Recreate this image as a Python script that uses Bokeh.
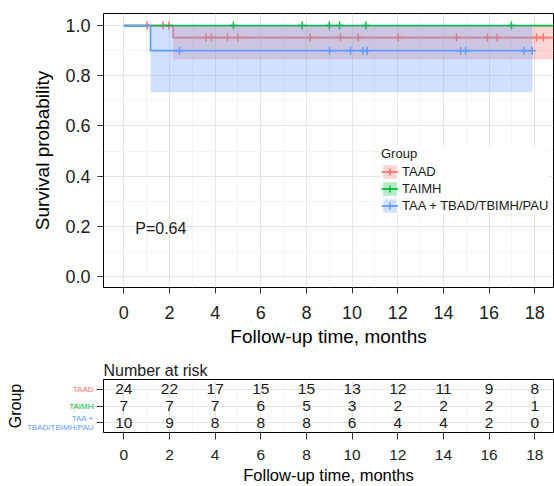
import numpy as np
from bokeh.plotting import figure
from bokeh.layouts import column, row
from bokeh.models import (Range1d, FixedTicker, Legend, LegendItem, Label,
                          ColumnDataSource, PrintfTickFormatter)
from bokeh.core.properties import value
from bokeh.embed import file_html
from bokeh.resources import INLINE

FONT = "Liberation Sans"

groups = ["TAAD", "TAIMH", "TAA + TBAD/TBIMH/PAU"]
group_ticklabels = ["TAAD", "TAIMH", "TAA +\nTBAD/TBIMH/PAU"]
colors = ["#F8766D", "#00BA38", "#619CFF"]

# Kaplan-Meier step values (time where survival changes, survival, CI)
taad_time = [0.0, 2.16, 19.5]
taad_surv = [1.0, 0.952, 0.952]
taad_lower = [1.0, 0.865, 0.865]
taad_upper = [1.0, 1.0, 1.0]
taad_censor = [1.02, 1.71, 1.97, 3.6, 3.84, 4.54, 5.0, 8.16, 9.49, 10.27,
               12.02, 14.57, 15.92, 16.35, 18.08, 18.37]

taimh_time = [0.0, 19.5]
taimh_surv = [1.0, 1.0]
taimh_lower = [1.0, 1.0]
taimh_upper = [1.0, 1.0]
taimh_censor = [4.8, 7.81, 9.0, 9.45, 10.6, 16.98]

taa_time = [0.0, 1.17, 17.9]
taa_surv = [1.0, 0.9, 0.9]
taa_lower = [1.0, 0.734, 0.734]
taa_upper = [1.0, 1.0, 1.0]
taa_censor = [2.44, 9.01, 9.93, 10.47, 10.66, 14.75, 14.97, 17.52, 17.89]

# Number at risk
risk_times = [0, 2, 4, 6, 8, 10, 12, 14, 16, 18]
taad_risk = [24, 22, 17, 15, 15, 13, 12, 11, 9, 8]
taimh_risk = [7, 7, 7, 6, 5, 3, 2, 2, 2, 1]
taa_risk = [10, 9, 8, 8, 8, 6, 4, 4, 2, 0]

x_ticks = [0, 2, 4, 6, 8, 10, 12, 14, 16, 18]
x_minor = [1, 3, 5, 7, 9, 11, 13, 15, 17]
y_ticks = [0.0, 0.2, 0.4, 0.6, 0.8, 1.0]
y_minor = [0.1, 0.3, 0.5, 0.7, 0.9]

curves = [
    (taad_time, taad_surv, taad_lower, taad_upper, taad_censor),
    (taimh_time, taimh_surv, taimh_lower, taimh_upper, taimh_censor),
    (taa_time, taa_surv, taa_lower, taa_upper, taa_censor),
]

XR = (-0.89, 18.82)
TICK_COLOR = "#333333"
LABEL_COLOR = "#222222"
W = 554

# ---------------- main KM plot ----------------
p = figure(width=W, height=353, x_range=Range1d(*XR), y_range=Range1d(-0.044, 1.048),
           output_backend="svg", toolbar_location=None,
           min_border_left=103, min_border_right=1, min_border_top=13, min_border_bottom=66)
p.outline_line_color = "black"
p.outline_line_width = 1
p.background_fill_color = "white"

for ax in (p.xaxis[0], p.yaxis[0]):
    ax.axis_line_color = None
    ax.major_tick_line_color = TICK_COLOR
    ax.major_tick_out = 6
    ax.major_tick_in = 0
    ax.minor_tick_line_color = None
    ax.major_label_text_font = FONT
    ax.major_label_text_font_size = "18px"
    ax.major_label_text_color = LABEL_COLOR
    ax.axis_label_text_font = FONT
    ax.axis_label_text_font_size = "19px"
    ax.axis_label_text_font_style = "normal"
    ax.axis_label_text_color = "black"

p.xaxis.ticker = FixedTicker(ticks=x_ticks, minor_ticks=x_minor)
p.yaxis.ticker = FixedTicker(ticks=y_ticks, minor_ticks=y_minor)
p.yaxis.formatter = PrintfTickFormatter(format="%.1f")
p.xaxis.axis_label = "Follow-up time, months"
p.yaxis.axis_label = "Survival probability"
p.xaxis.major_label_standoff = 12
p.xaxis.axis_label_standoff = 4
p.yaxis.major_label_standoff = 7
p.yaxis.axis_label_standoff = 9

for g in (p.xgrid[0], p.ygrid[0]):
    g.grid_line_color = "#E6E6E6"
    g.grid_line_width = 1
    g.minor_grid_line_color = "#EFEFEF"
    g.minor_grid_line_width = 0.7

items = []
for (t, s, lo, up, cens), name, col in zip(curves, groups, colors):
    t = np.array(t); s = np.array(s)
    r_area = p.varea_step(x=t, y1=lo, y2=up, step_mode="after", fill_color=col, fill_alpha=0.3)
    r_line = p.step(x=t, y=s, mode="after", line_color=col, line_width=1.7)
    idx = np.searchsorted(t, np.array(cens), side="right") - 1
    r_pts = p.scatter(x=cens, y=s[idx], marker="cross", size=8, line_color=col, line_width=1.5)
    items.append(LegendItem(label=name, renderers=[r_area, r_line, r_pts]))

legend = Legend(items=items, location=(278, 73), title="Group",
                title_text_font=FONT, title_text_font_size="13px", title_text_font_style="normal",
                title_text_color="#1a1a1a", title_standoff=2,
                label_text_font=FONT, label_text_font_size="13px", label_text_color="#1a1a1a",
                glyph_width=17, glyph_height=17, label_height=17, label_standoff=4,
                spacing=0, padding=3, margin=0, border_line_color=None,
                background_fill_color="white", background_fill_alpha=1.0)
p.add_layout(legend)

p.add_layout(Label(x=0.5, y=0.19, text="P=0.64", text_font=FONT, text_font_size="16px",
                   text_baseline="middle", text_color="#1a1a1a"))

# ---------------- risk table ----------------
TB_H, TB_TOP, TB_BOT = 133, 26, 54
LEFT_W = 95

tb = figure(width=W - LEFT_W, height=TB_H, x_range=Range1d(*XR), y_range=Range1d(0.4, 3.6),
            output_backend="svg", toolbar_location=None,
            min_border_left=8, min_border_right=1, min_border_top=TB_TOP, min_border_bottom=TB_BOT)
tb.outline_line_color = "black"
tb.title.text = "Number at risk"
tb.title.align = "left"
tb.title.text_font = FONT
tb.title.text_font_size = "16px"
tb.title.text_font_style = "normal"
tb.title.text_color = "#1a1a1a"
tb.title.standoff = 2

for ax in (tb.xaxis[0], tb.yaxis[0]):
    ax.axis_line_color = None
    ax.major_tick_line_color = TICK_COLOR
    ax.major_tick_out = 7
    ax.major_tick_in = 0
    ax.minor_tick_line_color = None
    ax.major_label_text_font = FONT
    ax.major_label_text_font_size = "15.5px"
    ax.major_label_text_color = LABEL_COLOR
    ax.axis_label_text_font = FONT
    ax.axis_label_text_font_size = "16.5px"
    ax.axis_label_text_font_style = "normal"
    ax.axis_label_text_color = "black"

tb.xaxis.ticker = FixedTicker(ticks=x_ticks, minor_ticks=x_minor)
tb.xaxis.axis_label = "Follow-up time, months"
tb.xaxis.major_label_standoff = 10
tb.xaxis.axis_label_standoff = 3
tb.yaxis.ticker = FixedTicker(ticks=[1, 2, 3])
tb.yaxis.major_label_overrides = {1: "", 2: "", 3: ""}
tb.yaxis.major_label_standoff = 0
tb.yaxis.major_label_text_font_size = "1px"

tb.xgrid.grid_line_color = "#E6E6E6"
tb.xgrid.minor_grid_line_color = "#EFEFEF"
tb.xgrid.minor_grid_line_width = 0.7
tb.ygrid.grid_line_color = "#E6E6E6"

risk_rows = [taad_risk, taimh_risk, taa_risk]
row_pos = [3, 2, 1]
src = ColumnDataSource(dict(
    x=[t for _ in risk_rows for t in risk_times],
    y=[rp for rp, r in zip(row_pos, risk_rows) for _ in r],
    txt=[str(v) for r in risk_rows for v in r],
))
tb.text(x="x", y="y", text="txt", source=src, text_align="center", text_baseline="middle",
        text_font=value(FONT), text_font_size="15.5px", text_color="#1a1a1a")

# left panel holding the coloured group labels and the "Group" title
lf = figure(width=LEFT_W, height=TB_H, x_range=Range1d(0, LEFT_W), y_range=tb.y_range,
            output_backend="svg", toolbar_location=None, x_axis_type=None, y_axis_type=None,
            min_border_left=0, min_border_right=0, min_border_top=TB_TOP, min_border_bottom=TB_BOT)
lf.outline_line_color = None
lf.xgrid.visible = False
lf.ygrid.visible = False
lf.text(x=[LEFT_W - 2] * 3, y=row_pos, text=group_ticklabels, text_color=colors,
        text_align="right", text_baseline="middle", text_font=value(FONT),
        text_font_size="8px", text_line_height=1.0)
lf.text(x=[15], y=[2], text=["Group"], angle=np.pi / 2, text_align="center",
        text_baseline="middle", text_font=value(FONT), text_font_size="16px", text_color="black")

layout = column(p, row(lf, tb, spacing=0), spacing=0)
open("out.html", "w").write(file_html(layout, INLINE))
